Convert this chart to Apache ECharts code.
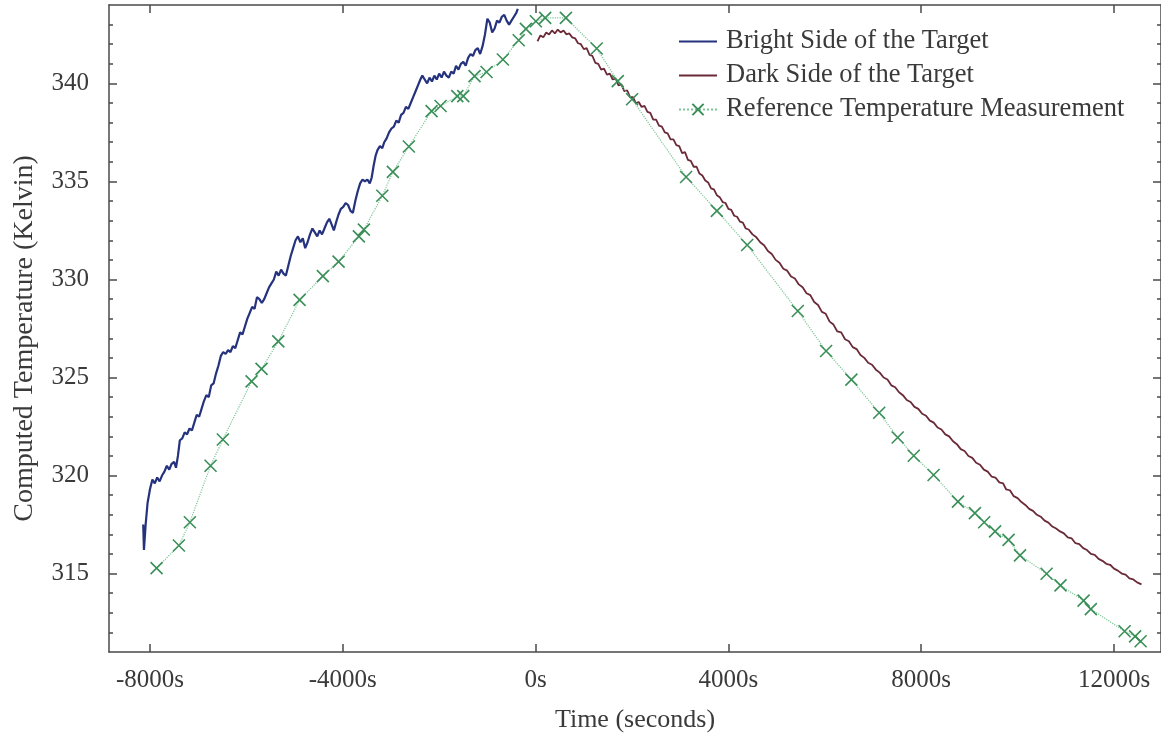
<!DOCTYPE html>
<html>
<head>
<meta charset="utf-8">
<script src="https://cdn.jsdelivr.net/npm/echarts@6/dist/echarts.min.js"></script>
<style>
html,body{margin:0;padding:0;background:#fff;}
#chart{width:1161px;height:740px;}
</style>
</head>
<body>
<div id="chart"></div>
<script>
// ---- data (time in seconds, temperature in Kelvin) ----
const xTickValues = [-8000, -4000, 0, 4000, 8000, 12000];
const yLabelValues = [315, 320, 325, 330, 335, 340];
const yMinorValues = [312,313,314,315,316,317,318,319,320,321,322,323,324,325,326,327,328,329,330,331,332,333,334,335,336,337,338,339,340,341,342,343];

const brightSide = [
[-8140,317.5],[-8125,316.2],[-8090,317.5],[-8050,318.6],[-8000,319.3],[-7950,319.8],[-7900,319.6],[-7850,319.9],
[-7800,319.7],[-7750,320.0],[-7700,320.2],[-7650,320.5],[-7600,320.3],[-7550,320.6],[-7500,320.7],[-7460,320.4],
[-7420,321.0],[-7380,321.8],[-7330,321.9],[-7280,322.2],[-7230,322.1],[-7180,322.4],[-7130,322.3],[-7080,322.7],
[-7030,323.1],[-6980,323.0],[-6930,323.4],[-6880,323.8],[-6830,324.1],[-6780,324.0],[-6730,324.6],[-6680,324.7],
[-6630,325.2],[-6580,325.6],[-6530,326.1],[-6480,326.3],[-6430,326.2],[-6380,326.4],[-6330,326.3],[-6280,326.6],
[-6230,326.5],[-6180,326.9],[-6130,327.3],[-6080,327.2],[-6030,327.6],[-5980,328.0],[-5930,328.3],[-5880,328.6],
[-5830,328.5],[-5780,329.1],[-5730,329.0],[-5680,328.8],[-5630,329.0],[-5580,329.3],[-5530,329.6],[-5480,329.8],
[-5430,330.0],[-5380,330.4],[-5330,330.2],[-5280,330.5],[-5230,330.3],[-5180,330.2],[-5130,330.7],[-5080,331.2],
[-5030,331.6],[-4980,332.0],[-4930,332.2],[-4880,331.9],[-4830,332.1],[-4780,331.6],[-4730,331.9],[-4680,332.3],
[-4630,332.6],[-4580,332.4],[-4530,332.2],[-4480,332.5],[-4430,332.3],[-4380,332.6],[-4330,332.9],[-4280,333.1],
[-4230,332.8],[-4185,332.5],[-4140,332.9],[-4090,333.3],[-4040,333.6],[-3990,333.7],[-3940,333.9],[-3890,333.8],
[-3840,333.5],[-3790,333.4],[-3740,334.0],[-3690,334.5],[-3640,334.9],[-3590,335.1],[-3540,335.0],[-3490,335.1],
[-3440,334.9],[-3400,335.2],[-3360,335.8],[-3320,336.3],[-3280,336.6],[-3230,336.8],[-3180,336.7],[-3140,337.0],
[-3090,337.2],[-3040,337.5],[-2990,337.7],[-2940,337.8],[-2890,338.1],[-2840,338.0],[-2790,338.4],[-2740,338.5],
[-2690,338.8],[-2640,338.7],[-2590,339.0],[-2540,339.3],[-2490,339.6],[-2440,339.9],[-2390,340.2],[-2350,340.4],
[-2300,340.2],[-2250,340.0],[-2200,340.3],[-2150,340.1],[-2100,340.4],[-2050,340.2],[-2000,340.5],[-1950,340.3],
[-1900,340.6],[-1850,340.4],[-1800,340.3],[-1750,340.6],[-1700,340.5],[-1650,340.9],[-1600,340.7],[-1550,341.0],
[-1500,341.1],[-1450,340.9],[-1400,341.3],[-1350,341.5],[-1300,341.4],[-1250,341.7],[-1200,341.8],[-1150,341.5],
[-1100,341.9],[-1050,342.5],[-1000,343.3],[-950,343.1],[-900,342.6],[-850,342.8],[-800,343.2],[-750,343.1],
[-700,343.4],[-650,343.5],[-600,343.2],[-550,343.0],[-500,343.2],[-450,343.4],[-400,343.6],[-370,343.8]
];

const darkSide = [
[40,342.15],[100,342.45],[160,342.35],[220,342.6],[280,342.5],[340,342.7],[400,342.55],[460,342.75],[520,342.6],
[580,342.7],[640,342.5],[700,342.55],[760,342.35],[820,342.3],[880,342.05],[940,342.0],[1000,341.75],[1060,341.8],
[1120,341.45],[1180,341.4],[1240,341.05],[1300,341.0],[1360,340.7],[1420,340.75],[1480,340.45],[1540,340.5],
[1600,340.2],[1660,340.25],[1720,339.9],[1780,339.95],[1840,339.6],[1900,339.65],[1960,339.3],[2020,339.3],
[2080,339.0],[2140,339.05],[2200,338.8],[2260,338.85],[2320,338.55],[2380,338.5],[2440,338.15],[2500,338.15],
[2560,337.85],[2620,337.8],[2680,337.5],[2740,337.45],[2800,337.15],[2860,337.15],[2920,336.85],[2980,336.8],
[3040,336.45],[3100,336.5],[3160,336.1],[3220,336.05],[3280,335.75],[3340,335.75],[3400,335.4],[3460,335.3],
[3520,335.05],[3580,334.95],[3640,334.65],[3700,334.6],[3760,334.3],[3820,334.2],[3880,333.95],[3940,333.9],
[4000,333.6],[4060,333.55],[4120,333.25],[4180,333.2],[4240,332.95],[4300,332.9],[4360,332.6],[4420,332.55],
[4500,332.3],[4580,332.15],[4660,331.9],[4740,331.75],[4820,331.45],[4900,331.3],[4980,331.0],[5060,330.85],
[5140,330.55],[5220,330.45],[5300,330.15],[5380,330.05],[5460,329.75],[5540,329.6],[5620,329.3],[5700,329.2],
[5780,328.85],[5860,328.7],[5940,328.35],[6020,328.25],[6100,327.85],[6180,327.7],[6260,327.35],[6340,327.3],
[6420,326.95],[6500,326.85],[6580,326.55],[6660,326.45],[6740,326.15],[6820,326.0],[6900,325.75],[6980,325.65],
[7060,325.4],[7140,325.25],[7220,325.0],[7300,324.9],[7380,324.6],[7460,324.5],[7540,324.25],[7620,324.1],
[7700,323.85],[7780,323.75],[7860,323.5],[7940,323.4],[8020,323.15],[8100,323.05],[8180,322.8],[8260,322.7],
[8340,322.45],[8420,322.35],[8500,322.1],[8580,322.0],[8660,321.75],[8740,321.6],[8820,321.35],[8900,321.25],
[8980,321.0],[9060,320.9],[9140,320.65],[9220,320.55],[9300,320.3],[9380,320.2],[9460,319.95],[9540,319.9],
[9620,319.65],[9700,319.6],[9760,319.3],[9840,319.25],[9920,318.95],[10000,318.85],[10080,318.65],[10160,318.5],
[10240,318.3],[10320,318.2],[10400,318.0],[10480,317.9],[10560,317.7],[10640,317.6],[10720,317.4],[10800,317.3],
[10880,317.15],[10960,317.05],[11040,316.85],[11120,316.8],[11200,316.55],[11280,316.5],[11360,316.3],[11440,316.2],
[11520,316.0],[11600,315.95],[11680,315.75],[11760,315.65],[11840,315.5],[11920,315.45],[12000,315.25],[12080,315.15],
[12160,315.0],[12240,314.95],[12320,314.75],[12400,314.7],[12480,314.55],[12570,314.45]
];

const referenceMeasurement = [
[-7863,315.28],[-7400,316.43],[-7172,317.62],[-6743,320.5],[-6488,321.84],[-5892,324.8],[-5685,325.44],[-5338,326.84],
[-4896,328.96],[-4413,330.17],[-4087,330.91],[-3666,332.2],[-3562,332.54],[-3180,334.27],[-2961,335.49],[-2629,336.78],
[-2158,338.59],[-1971,338.85],[-1624,339.35],[-1500,339.35],[-1266,340.37],[-1017,340.58],[-678,341.22],[-350,342.2],
[-201,342.78],[6,343.17],[199,343.34],[629,343.34],[1268,341.78],[1705,340.12],[2002,339.19],[3122,335.23],
[3761,333.5],[4390,331.76],[5440,328.39],[6027,326.35],[6552,324.89],[7129,323.2],[7512,321.94],[7846,321.01],
[8257,320.03],[8763,318.67],[9114,318.08],[9307,317.62],[9533,317.15],[9813,316.72],[10050,315.93],[10602,314.99],
[10890,314.4],[11369,313.62],[11519,313.19],[12220,312.06],[12438,311.8],[12552,311.55]
];

const seriesNames = ['Bright Side of the Target', 'Dark Side of the Target', 'Reference Temperature Measurement'];

// ---- chart ----
const FONT = '"Liberation Serif", "Times New Roman", serif';
const TXT = '#3a3a3a';
const AX = '#4a4a4a';
const X_MIN = -8850, X_MAX = 12975, Y_MIN = 311, Y_MAX = 344;

const chart = echarts.init(document.getElementById('chart'), null, {renderer: 'canvas'});

function xAx(pos, showLabel) {
  return {
    type: 'value', position: pos, min: X_MIN, max: X_MAX,
    axisLine: {show: true, onZero: false, lineStyle: {color: AX, width: 1.5}},
    axisTick: {show: true, inside: true, length: 8, customValues: xTickValues, lineStyle: {color: AX, width: 1.5}},
    axisLabel: {show: showLabel, customValues: xTickValues, formatter: v => v + 's', fontFamily: FONT, fontSize: 25, color: TXT, margin: 16},
    splitLine: {show: false},
    name: showLabel ? 'Time (seconds)' : '',
    nameLocation: 'middle', nameGap: 55,
    nameTextStyle: {fontFamily: FONT, fontSize: 26, color: TXT}
  };
}
function yAx(pos, major, showLine, showLabel) {
  return {
    type: 'value', position: pos, min: Y_MIN, max: Y_MAX, offset: 0,
    axisLine: {show: showLine, onZero: false, lineStyle: {color: AX, width: 1.5}},
    axisTick: {show: true, inside: true, length: major ? 8 : 4, customValues: major ? yLabelValues : yMinorValues, lineStyle: {color: AX, width: 1.5}},
    axisLabel: {show: showLabel, customValues: yLabelValues, fontFamily: FONT, fontSize: 25, color: TXT, margin: 20},
    splitLine: {show: false},
    name: showLabel ? 'Computed Temperature (Kelvin)' : '',
    nameLocation: 'middle', nameGap: 70, nameRotate: 90,
    nameTextStyle: {fontFamily: FONT, fontSize: 28, color: TXT, padding: [0, 20, 0, 0]}
  };
}

chart.setOption({
  animation: false,
  backgroundColor: '#ffffff',
  grid: {left: 109, top: 5, right: 0, bottom: 88, containLabel: false},
  xAxis: [xAx('bottom', true), xAx('top', false)],
  yAxis: [yAx('left', true, true, true), yAx('left', false, false, false), yAx('right', true, true, false), yAx('right', false, false, false)],
  legend: {
    orient: 'vertical', left: 673, top: 23, itemWidth: 38, itemHeight: 14, itemGap: 7,
    textStyle: {fontFamily: FONT, fontSize: 26.5, color: TXT, padding: [0, 0, 0, 4]},
    data: [
      {name: seriesNames[0], itemStyle: {opacity: 0}},
      {name: seriesNames[1], itemStyle: {opacity: 0}},
      {name: seriesNames[2]}
    ]
  },
  series: [
    {
      name: seriesNames[0], type: 'line', xAxisIndex: 0, yAxisIndex: 0, data: brightSide,
      symbol: 'none', showSymbol: false, color: '#25327d',
      lineStyle: {color: '#25327d', width: 2.2}, z: 3
    },
    {
      name: seriesNames[1], type: 'line', xAxisIndex: 0, yAxisIndex: 0, data: darkSide,
      symbol: 'none', showSymbol: false, color: '#6a2a38',
      lineStyle: {color: '#6a2a38', width: 1.8}, z: 2
    },
    {
      name: seriesNames[2], type: 'line', xAxisIndex: 0, yAxisIndex: 0, data: referenceMeasurement,
      symbol: 'path://M0,0L10,10M10,0L0,10', symbolSize: 12, showSymbol: true, color: '#3a8f58',
      itemStyle: {color: '#3a8f58', borderColor: '#3a8f58', borderWidth: 1.6},
      lineStyle: {color: '#7cc596', width: 1.2, type: 'dotted'}, z: 4
    }
  ]
});
</script>
</body>
</html>
